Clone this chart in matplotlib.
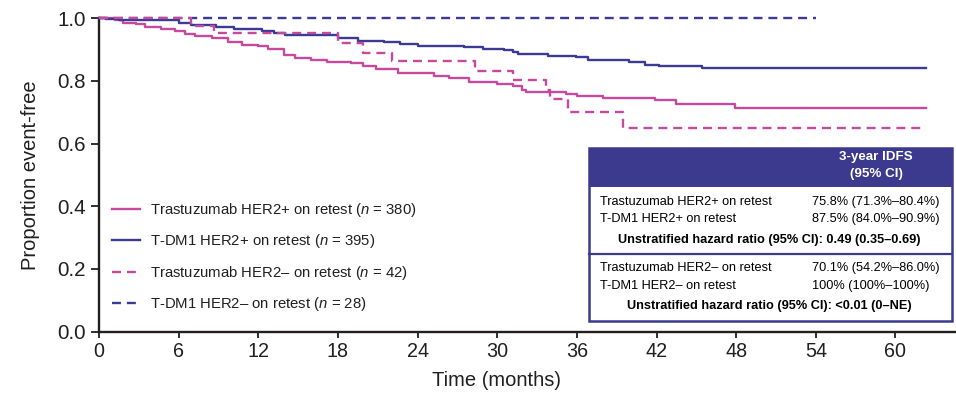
import matplotlib
matplotlib.use("Agg")
import matplotlib.pyplot as plt
from matplotlib.patches import Rectangle
from matplotlib.lines import Line2D

plt.rcParams['font.family'] = ['Liberation Sans', 'DejaVu Sans']
plt.rcParams['mathtext.fontset'] = 'custom'
plt.rcParams['mathtext.it'] = 'Liberation Sans:italic'
plt.rcParams['mathtext.rm'] = 'Liberation Sans'

# ---------------- data ----------------
t_tras_pos = [0, 1.2, 1.8, 2.8, 3.5, 4.7, 5.7, 6.5, 7.2, 8.5, 9.7, 10.8, 12.0, 12.7, 13.9,
              14.8, 16.0, 17.2, 19.0, 19.9, 20.9, 22.5, 25.2, 26.4, 27.9, 30.0, 31.2, 31.9,
              32.2, 35.2, 36.0, 38.0, 41.9, 43.5, 47.9, 62.3]
s_tras_pos = [1.0, 0.993, 0.986, 0.980, 0.973, 0.966, 0.959, 0.949, 0.944, 0.936, 0.925, 0.915,
              0.911, 0.901, 0.883, 0.874, 0.867, 0.861, 0.856, 0.848, 0.837, 0.826, 0.816, 0.808,
              0.797, 0.790, 0.784, 0.771, 0.764, 0.758, 0.752, 0.745, 0.739, 0.726, 0.715, 0.715]

t_tdm1_pos = [0, 0.5, 1.5, 6.0, 6.9, 8.8, 10.2, 12.3, 13.2, 14.0, 18.0, 19.5, 21.5, 22.7, 24.0,
              27.5, 28.9, 30.5, 31.2, 31.6, 33.8, 35.9, 36.8, 39.9, 41.1, 42.2, 45.4, 62.3]
s_tdm1_pos = [1.0, 0.997, 0.994, 0.984, 0.977, 0.971, 0.966, 0.960, 0.952, 0.945, 0.936, 0.928,
              0.923, 0.917, 0.912, 0.907, 0.902, 0.897, 0.892, 0.886, 0.881, 0.876, 0.867, 0.859,
              0.851, 0.846, 0.840, 0.840]

t_tras_neg = [0, 6.9, 8.7, 18.0, 19.9, 22.1, 28.3, 31.2, 33.7, 34.0, 35.3, 39.5, 62.3]
s_tras_neg = [1.0, 0.976, 0.952, 0.921, 0.888, 0.863, 0.831, 0.802, 0.770, 0.741, 0.701, 0.651, 0.651]

t_tdm1_neg = [0, 54.0]
s_tdm1_neg = [1.0, 1.0]

labels = ["Trastuzumab HER2+ on retest ($n$ = 380)",
          "T-DM1 HER2+ on retest ($n$ = 395)",
          "Trastuzumab HER2\u2013 on retest ($n$ = 42)",
          "T-DM1 HER2\u2013 on retest ($n$ = 28)"]

xticks = [0, 6, 12, 18, 24, 30, 36, 42, 48, 54, 60]
yticks = [0.0, 0.2, 0.4, 0.6, 0.8, 1.0]

table_header = ["3-year IDFS", "(95% CI)"]
table_rows1 = [("Trastuzumab HER2+ on retest", "75.8% (71.3%\u201380.4%)"),
               ("T-DM1 HER2+ on retest", "87.5% (84.0%\u201390.9%)")]
table_hr1 = "Unstratified hazard ratio (95% CI): 0.49 (0.35\u20130.69)"
table_rows2 = [("Trastuzumab HER2\u2013 on retest", "70.1% (54.2%\u201386.0%)"),
               ("T-DM1 HER2\u2013 on retest", "100% (100%\u2013100%)")]
table_hr2 = "Unstratified hazard ratio (95% CI): <0.01 (0\u2013NE)"

# ---------------- style ----------------
PINK = "#c54a9d"
BLUE = "#3b3a94"
HEAD = "#3c3a8e"
DARK = "#231f20"

W, H = 956, 401
fig = plt.figure(figsize=(W / 100, H / 100), dpi=100)

def fx(px):
    return px / W

def fy(py):
    return (H - py) / H

x0px, x60px = 99, 895.5
ppm = (x60px - x0px) / 60.0
ybot, ytop = 331.7, 18.2
ax = fig.add_axes([fx(x0px), fy(ybot), (W - x0px) / W, (ybot - ytop) / H])
ax.set_xlim(0, (W - x0px) / ppm)
ax.set_ylim(0, 1.0)

lw = 1.7
dash = (0, (3.8, 2.5))
ax.plot(t_tras_pos, s_tras_pos, drawstyle='steps-post', color=PINK, lw=lw, clip_on=False, zorder=3)
ax.plot(t_tdm1_pos, s_tdm1_pos, drawstyle='steps-post', color=BLUE, lw=lw, clip_on=False, zorder=3)
ax.plot(t_tras_neg, s_tras_neg, drawstyle='steps-post', color=PINK, lw=lw, ls=dash,
        clip_on=False, zorder=4)
ax.plot(t_tdm1_neg, s_tdm1_neg, drawstyle='steps-post', color=BLUE, lw=lw, ls=dash,
        clip_on=False, zorder=2)

for side in ('top', 'right'):
    ax.spines[side].set_visible(False)
for side in ('left', 'bottom'):
    ax.spines[side].set_linewidth(1.7)
    ax.spines[side].set_color(DARK)

ax.set_xticks(xticks)
ax.set_xticklabels([str(v) for v in xticks])
ax.set_yticks(yticks)
ax.set_yticklabels([f"{v:.1f}" for v in yticks])
ax.tick_params(axis='both', direction='out', width=1.3, color=DARK, labelcolor=DARK)
ax.tick_params(axis='y', pad=4, length=5.5, labelsize=14.8)
ax.tick_params(axis='x', pad=3, length=4.5, labelsize=14.2)

ax.set_xlabel("Time (months)", fontsize=14.5, color=DARK)
ax.set_ylabel("Proportion event-free", fontsize=14.5, color=DARK)
ax.xaxis.set_label_coords((497 - x0px) / (W - x0px), (ybot - 371) / (ybot - ytop))
ax.yaxis.set_label_coords((40 - x0px) / (W - x0px), 0.5)

handles = [Line2D([], [], color=PINK, lw=lw),
           Line2D([], [], color=BLUE, lw=lw),
           Line2D([], [], color=PINK, lw=lw, ls=dash),
           Line2D([], [], color=BLUE, lw=lw, ls=dash)]
leg = fig.legend(handles, labels, loc='upper left', bbox_to_anchor=(fx(112), fy(201)),
                 bbox_transform=fig.transFigure, frameon=False, fontsize=10.7,
                 handlelength=1.9, handletextpad=0.65, labelspacing=0.9,
                 borderpad=0, borderaxespad=0)
for txt in leg.get_texts():
    txt.set_color(DARK)

# ---------------- table box ----------------
bx0, bx1, by0, by1, hy = 588.5, 951.5, 147.5, 320.5, 186.7
fig.patches.append(Rectangle((fx(bx0), fy(hy)), fx(bx1) - fx(bx0), fy(by0) - fy(hy),
                             transform=fig.transFigure, facecolor=HEAD, edgecolor='none', zorder=5))
fig.patches.append(Rectangle((fx(bx0), fy(by1)), fx(bx1) - fx(bx0), fy(by0) - fy(by1),
                             transform=fig.transFigure, facecolor='none', edgecolor=HEAD,
                             lw=1.8, zorder=6))
fig.lines.append(Line2D([fx(bx0), fx(bx1)], [fy(254), fy(254)], transform=fig.transFigure,
                        color=HEAD, lw=1.6, zorder=6))

tfs = 9.2
fig.text(fx(876), fy(157), table_header[0], color='white', fontsize=9.6, fontweight='bold',
         ha='center', va='center', zorder=7)
fig.text(fx(876), fy(174), table_header[1], color='white', fontsize=9.6, fontweight='bold',
         ha='center', va='center', zorder=7)
for (name, val), yy in zip(table_rows1, [201.7, 219.0]):
    fig.text(fx(600), fy(yy), name, fontsize=tfs, ha='left', va='center', color='black', zorder=7)
    fig.text(fx(812.5), fy(yy), val, fontsize=tfs, ha='left', va='center', color='black', zorder=7)
fig.text(fx(769), fy(239.5), table_hr1, fontsize=tfs, fontweight='bold', ha='center', va='center',
         color='black', zorder=7)
for (name, val), yy in zip(table_rows2, [268.3, 285.7]):
    fig.text(fx(600), fy(yy), name, fontsize=tfs, ha='left', va='center', color='black', zorder=7)
    fig.text(fx(812.5), fy(yy), val, fontsize=tfs, ha='left', va='center', color='black', zorder=7)
fig.text(fx(769), fy(305.7), table_hr2, fontsize=tfs, fontweight='bold', ha='center', va='center',
         color='black', zorder=7)

fig.savefig("out.png", dpi=100)
